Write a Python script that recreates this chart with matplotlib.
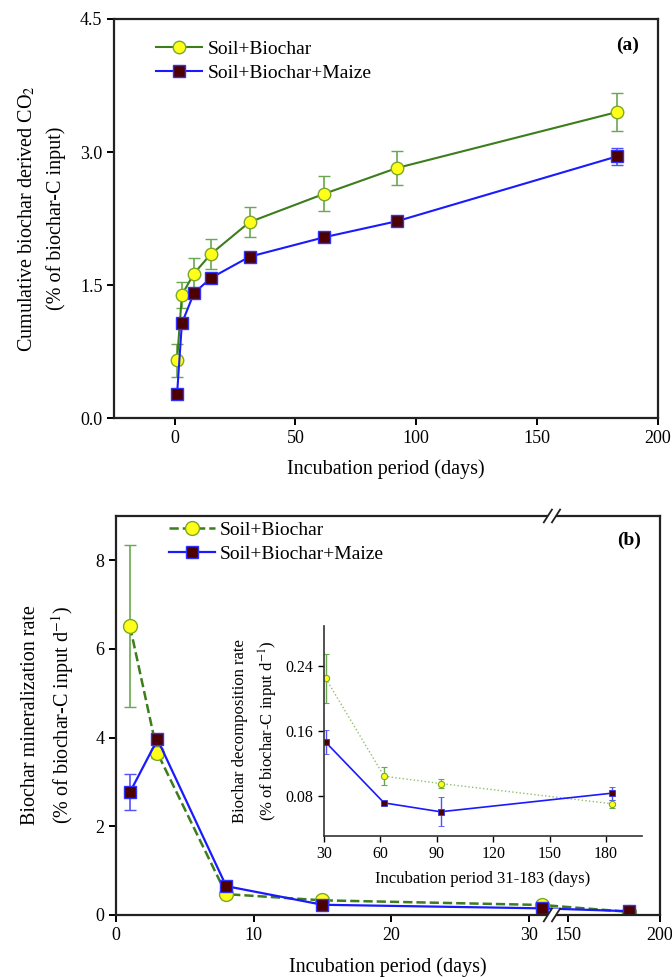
import numpy as np
import matplotlib
matplotlib.use('Agg')
import matplotlib.pyplot as plt

plt.rcParams['font.family'] = ['Liberation Serif', 'DejaVu Serif']
plt.rcParams['mathtext.fontset'] = 'stix'

# ---- data ----
days_a = [1, 3, 8, 15, 31, 62, 92, 183]
sb_a = [0.65, 1.39, 1.63, 1.85, 2.21, 2.53, 2.82, 3.45]
sb_a_err = [0.19, 0.15, 0.17, 0.17, 0.17, 0.20, 0.19, 0.21]
sbm_a = [0.27, 1.07, 1.41, 1.58, 1.82, 2.04, 2.22, 2.95]
sbm_a_err = [0.02, 0.03, 0.03, 0.03, 0.03, 0.03, 0.04, 0.10]

days_b = [1, 3, 8, 15, 31, 183]
sb_b = [6.51, 3.65, 0.47, 0.33, 0.225, 0.07]
sb_b_err = [1.83, 0.12, 0.05, 0.03, 0.03, 0.005]
sbm_b = [2.77, 3.96, 0.65, 0.23, 0.149, 0.085]
sbm_b_err = [0.41, 0.08, 0.05, 0.03, 0.015, 0.008]

days_in = [31, 62, 92, 183]
sb_in = [0.225, 0.104, 0.095, 0.070]
sb_in_err = [0.030, 0.011, 0.006, 0.005]
sbm_in = [0.146, 0.071, 0.060, 0.083]
sbm_in_err = [0.015, 0.002, 0.018, 0.008]

labels = ['Soil+Biochar', 'Soil+Biochar+Maize']

green = '#3c7d1c'
green_err = '#6aa84f'
blue = '#1a1aff'
blue_err = '#5050ff'
yel = '#ffff1a'
maroon = '#4d0000'

fig = plt.figure(figsize=(6.72, 9.77), dpi=100)

def style_axes(ax, lw=1.6):
    for s in ax.spines.values():
        s.set_linewidth(lw)
        s.set_color('#222222')
    ax.tick_params(direction='out', length=5, width=1.4, labelsize=13,
                   top=False, right=False)

# ---------------- panel (a) ----------------
ax1 = fig.add_axes([0.170, 0.572, 0.809, 0.4086])
e1 = ax1.errorbar(days_a, sb_a, yerr=sb_a_err, fmt='-o', color=green, lw=1.5,
                  ecolor=green_err, elinewidth=1.2, capsize=4, capthick=1.2,
                  mfc=yel, mec='#7aa82a', ms=9, mew=1.0)
e2 = ax1.errorbar(days_a, sbm_a, yerr=sbm_a_err, fmt='-s', color=blue, lw=1.5,
                  ecolor=blue_err, elinewidth=1.2, capsize=4, capthick=1.2,
                  mfc=maroon, mec='#3030ff', ms=8, mew=1.0)
ax1.set_xlim(-25, 200)
ax1.set_ylim(0, 4.5)
ax1.set_xticks([0, 50, 100, 150, 200])
ax1.set_yticks([0.0, 1.5, 3.0, 4.5])
ax1.set_yticklabels(['0.0', '1.5', '3.0', '4.5'])
style_axes(ax1)
ax1.set_xlabel('Incubation period (days)', fontsize=14.5, labelpad=9)
ax1.set_ylabel('Cumulative biochar derived CO$_2$\n(% of biochar-C input)',
               fontsize=14.5, linespacing=1.6, labelpad=10)
ax1.text(0.965, 0.955, '(a)', transform=ax1.transAxes, ha='right', va='top',
         fontsize=14, fontweight='bold')
ax1.legend([e1[0], e2[0]], labels, loc='upper left',
           bbox_to_anchor=(0.055, 0.975), frameon=False,
           fontsize=14, handlelength=2.4, handletextpad=0.25, labelspacing=0.3,
           borderaxespad=0.2)

# ---------------- panel (b) with broken x axis ----------------
brk = 31.7
x0 = 141.3
k = 0.1338

def fwd(x):
    x = np.asarray(x, dtype=float)
    return np.where(x <= brk, x, np.where(x >= x0, brk + (x - x0) * k, brk))

def inv(f):
    f = np.asarray(f, dtype=float)
    return np.where(f <= brk, f, x0 + (f - brk) / k)

ax2 = fig.add_axes([0.173, 0.0635, 0.809, 0.4084])
ax2.set_xscale('function', functions=(fwd, inv))
e3 = ax2.errorbar(days_b, sb_b, yerr=sb_b_err, fmt='--o', color=green, lw=1.8,
                  ecolor=green_err, elinewidth=1.2, capsize=4, capthick=1.2,
                  mfc=yel, mec='#7aa82a', ms=10, mew=1.0)
e4 = ax2.errorbar(days_b, sbm_b, yerr=sbm_b_err, fmt='-s', color=blue, lw=1.6,
                  ecolor=blue_err, elinewidth=1.2, capsize=4, capthick=1.2,
                  mfc=maroon, mec='#3030ff', ms=9, mew=1.0)
ax2.set_xlim(0, 200)
ax2.set_ylim(0, 9)
ax2.set_xticks([0, 10, 20, 30, 150, 200])
ax2.set_yticks([0, 2, 4, 6, 8])
ax2.minorticks_off()
style_axes(ax2)
ax2.set_xlabel('Incubation period (days)', fontsize=14.5, labelpad=10)
ax2.set_ylabel('Biochar mineralization rate\n(% of biochar-C input d$^{-1}$)',
               fontsize=14.5, linespacing=1.45, labelpad=14)
ax2.text(0.965, 0.96, '(b)', transform=ax2.transAxes, ha='right', va='top',
         fontsize=14, fontweight='bold')
ax2.legend([e3[0], e4[0]], labels, loc='upper left',
           bbox_to_anchor=(0.075, 1.015), frameon=False,
           fontsize=14, handlelength=2.4, handletextpad=0.25, labelspacing=0.3,
           borderaxespad=0.2)

# break marks on top and bottom spines
fig.canvas.draw()
px = ax2.transData.transform([[brk + 0.05, 0]])[0][0]
bb = ax2.get_window_extent()
frac = (px - bb.x0) / bb.width
dx = 0.0075
gap = 0.0075
dy = 0.016
for yy in (0, 1):
    ax2.fill([frac - gap - dx, frac + gap - dx, frac + gap + dx, frac - gap + dx],
             [yy - dy, yy - dy, yy + dy, yy + dy], color='white', lw=0,
             transform=ax2.transAxes, clip_on=False, zorder=10)
    for off in (-gap, gap):
        ax2.plot([frac + off - dx, frac + off + dx], [yy - dy, yy + dy],
                 color='#222222', lw=1.3, transform=ax2.transAxes,
                 clip_on=False, zorder=11)

# ---------------- inset ----------------
ax3 = fig.add_axes([0.482, 0.1443, 0.473, 0.215])
ax3.errorbar(days_in, sb_in, yerr=sb_in_err, fmt=':o', color='#8cc06a', lw=1.0,
             ecolor=green_err, elinewidth=1.0, capsize=2.5, capthick=1.0,
             mfc=yel, mec='#7aa82a', ms=4.5, mew=0.8)
ax3.errorbar(days_in, sbm_in, yerr=sbm_in_err, fmt='-s', color=blue, lw=1.2,
             ecolor=blue_err, elinewidth=1.0, capsize=2.5, capthick=1.0,
             mfc=maroon, mec='#3030ff', ms=4, mew=0.6)
ax3.set_xlim(30, 199)
ax3.set_ylim(0.03, 0.29)
ax3.set_xticks([30, 60, 90, 120, 150, 180])
ax3.set_yticks([0.08, 0.16, 0.24])
ax3.spines['top'].set_visible(False)
ax3.spines['right'].set_visible(False)
for s in ('left', 'bottom'):
    ax3.spines[s].set_linewidth(1.2)
    ax3.spines[s].set_color('#333333')
ax3.tick_params(direction='out', length=4, width=1.0, labelsize=11.5)
ax3.set_facecolor('none')
ax3.set_xlabel('Incubation period 31-183 (days)', fontsize=12, labelpad=6)
ax3.set_ylabel('Biochar decomposition rate\n(% of biochar-C input d$^{-1}$)',
               fontsize=12, linespacing=1.5, labelpad=4)

fig.savefig('out.png', dpi=100, facecolor='white')
